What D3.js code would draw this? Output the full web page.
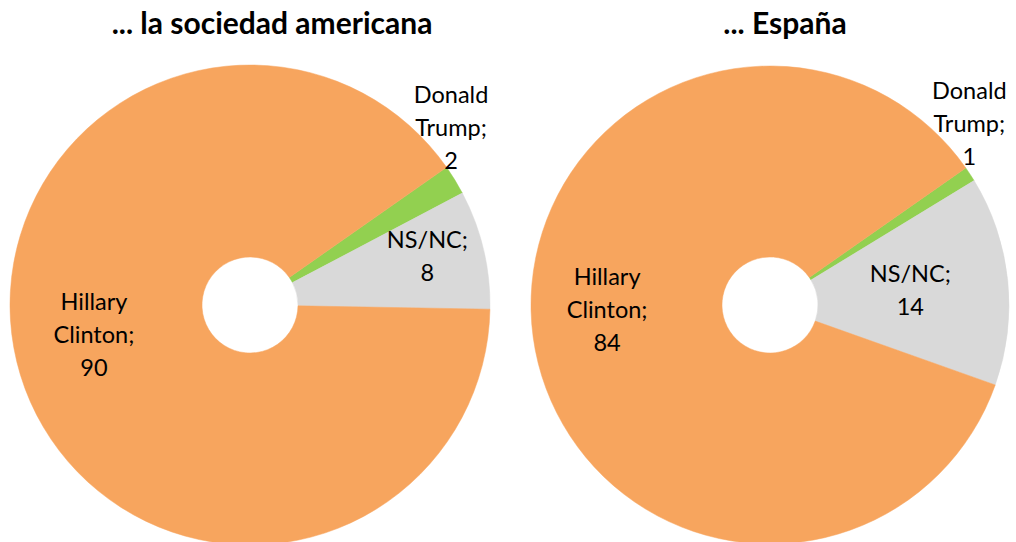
<!DOCTYPE html>
<html>
    <head>
        <meta charset="utf-8">
        <title>Donut pair</title>
        <style>
body {
    margin: 0;
    background-color: white;
}

svg {
    display: block;
}

text {
    font-family: Lato, "Open Sans", sans-serif;
    fill: #000;
}
</style>
        <script src="https://cdn.jsdelivr.net/npm/d3@7"></script>
    </head>
    <body>
        <script>
// data
var titles = ["... la sociedad americana", "... España"];
var categories = ["Donald Trump", "NS/NC", "Hillary Clinton"];
var sociedadValues = [2, 8, 90];
var espanaValues = [1, 14, 84];

var width = 1016,
    height = 542;

var colors = d3.scaleOrdinal()
    .domain(categories)
    .range(["#92d050", "#d9d9d9", "#f7a55e"]);

// layout for each panel (centre, radii, label placement)
var panels = [
    {title: titles[0], values: sociedadValues, cx: 250, cy: 305, r: 240, tx: 272,
     labels: [{r: 268, off: -10}, {r: 184, off: -2}, {r: 159, off: 6}]},
    {title: titles[1], values: espanaValues, cx: 770, cy: 305, r: 239, tx: 785,
     labels: [{r: 269, off: -9}, {r: 141, off: 0}, {r: 163, off: 6}]}
];

var innerRadius = 48,
    startAngle = 55 * Math.PI / 180,
    lineHeight = 33;

var svg = d3.select('body')
    .append('svg')
    .attr('width', width)
    .attr('height', height);

var pie = d3.pie()
    .sort(null)
    .startAngle(startAngle)
    .endAngle(startAngle + 2 * Math.PI)
    .value(function (d) { return d.value; });

panels.forEach(function (p) {
    var rows = categories.map(function (c, i) {
        return {name: c, value: p.values[i]};
    });

    var arc = d3.arc()
        .innerRadius(innerRadius)
        .outerRadius(p.r);

    var g = svg.append('g')
        .attr('transform', 'translate(' + p.cx + ',' + p.cy + ')');

    var arcs = pie(rows);

    g.selectAll('path')
        .data(arcs)
        .enter()
        .append('path')
        .attr('d', arc)
        .attr('fill', function (d) { return colors(d.data.name); })
        .attr('stroke', function (d) { return colors(d.data.name); })
        .attr('stroke-width', 0.5);

    var labels = g.selectAll('text.lab')
        .data(arcs)
        .enter()
        .append('text')
        .attr('class', 'lab')
        .attr('text-anchor', 'middle')
        .style('font-size', '23.5px')
        .attr('transform', function (d, i) {
            var pos = p.labels[i];
            var a = (d.startAngle + d.endAngle) / 2 + pos.off * Math.PI / 180;
            return 'translate(' + (Math.sin(a) * pos.r) + ',' + (-Math.cos(a) * pos.r) + ')';
        });

    labels.each(function (d) {
        var words = d.data.name.split(' ');
        var lines = words.map(function (w, k) {
            return k === words.length - 1 ? w + ';' : w;
        });
        lines.push(String(d.data.value));
        var t = d3.select(this);
        lines.forEach(function (l, k) {
            t.append('tspan')
                .attr('x', 0)
                .attr('y', (k - (lines.length - 1) / 2) * lineHeight + 8)
                .text(l);
        });
    });

    svg.append('text')
        .attr('x', p.tx)
        .attr('y', 34)
        .attr('text-anchor', 'middle')
        .style('font-size', '30px')
        .style('font-weight', 'bold')
        .text(p.title);
});

        </script>
    </body>
</html>
